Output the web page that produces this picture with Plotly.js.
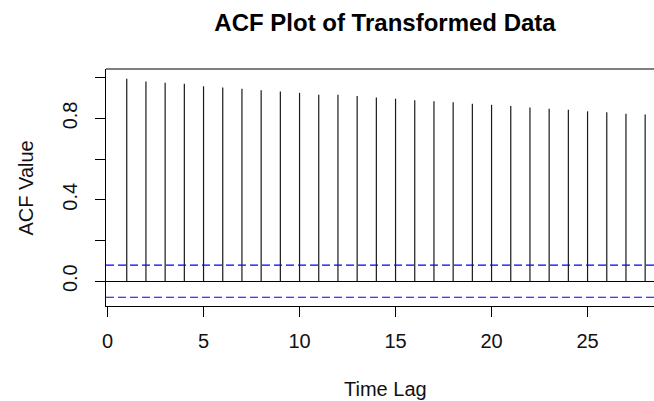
<!DOCTYPE html>
<html>
<head>
<meta charset="utf-8">
<script src="https://cdn.plot.ly/plotly-3.0.1.min.js"></script>
<style>html,body{margin:0;padding:0;background:#fff;}#chart{width:654px;height:401px;}</style>
</head>
<body>
<div id="chart"></div>
<script>
// Data
const lags = [1,2,3,4,5,6,7,8,9,10,11,12,13,14,15,16,17,18,19,20,21,22,23,24,25,26,27,28];
const acfValues = [0.995,0.981,0.975,0.970,0.958,0.952,0.946,0.939,0.933,0.926,0.916,0.916,0.910,0.903,
                   0.897,0.890,0.884,0.879,0.872,0.867,0.861,0.854,0.848,0.843,0.835,0.830,0.823,0.819];
const ciBound = 0.079;
const xTickVals = [0,5,10,15,20,25];
const yTickVals = [0,0.2,0.4,0.6,0.8,1.0];
const yTickText = ['0.0','','0.4','','0.8',''];

// Build the vertical spikes (lag, 0) -> (lag, acf)
const sx = [], sy = [];
lags.forEach((l, i) => { sx.push(l, l, null); sy.push(0, acfValues[i], null); });

const font = 'Liberation Sans, Arial, sans-serif';
const data = [{
  x: sx, y: sy, type: 'scatter', mode: 'lines',
  line: {color: '#1a1a1a', width: 1.2}, hoverinfo: 'skip', showlegend: false
}];

const layout = {
  width: 654, height: 401,
  margin: {l: 106, r: 0, t: 69, b: 95, pad: 0},
  paper_bgcolor: '#fff', plot_bgcolor: '#fff',
  font: {family: font, size: 20, color: '#111'},
  title: {text: '<b>ACF Plot of Transformed Data</b>', font: {family: font, size: 24, color: '#000'},
          xref: 'container', x: 385/654, xanchor: 'center', yref: 'container', y: 1 - 23/401, yanchor: 'middle'},
  xaxis: {
    range: [-0.08, 28.46], tickvals: xTickVals, ticks: 'outside', ticklen: 10, tickcolor: '#000', tickwidth: 1,
    ticklabelstandoff: 7,
    showline: true, linecolor: '#000', linewidth: 1, showgrid: false, zeroline: false,
    tickfont: {family: font, size: 20, color: '#111'}
  },
  yaxis: {
    range: [-0.122, 1.043], tickvals: yTickVals, ticktext: yTickText, tickangle: -90,
    ticks: 'outside', ticklen: 10, tickcolor: '#000', tickwidth: 1, ticklabelstandoff: 10,
    showline: true, linecolor: '#000', linewidth: 1, showgrid: false,
    zeroline: true, zerolinecolor: '#000', zerolinewidth: 1,
    tickfont: {family: font, size: 20, color: '#111'}
  },
  shapes: [
    {type: 'line', xref: 'paper', yref: 'paper', x0: 0, x1: 1, y0: 1, y1: 1, line: {color: '#000', width: 1}},
    {type: 'line', xref: 'paper', yref: 'y', x0: 0, x1: 1, y0: ciBound, y1: ciBound, line: {color: '#0000ff', width: 1.2, dash: '8px,4px'}},
    {type: 'line', xref: 'paper', yref: 'y', x0: 0, x1: 1, y0: -ciBound, y1: -ciBound, line: {color: '#0000ff', width: 1.2, dash: '8px,4px'}}
  ],
  annotations: [
    {text: 'Time Lag', xref: 'x', x: 14.5, yref: 'paper', y: -(389-306)/237, xanchor: 'center', yanchor: 'middle',
     showarrow: false, font: {family: font, size: 20, color: '#111'}},
    {text: 'ACF Value', textangle: -90, xref: 'paper', x: (25-106)/548, xanchor: 'center', yref: 'paper', y: 0.5, yanchor: 'middle',
     showarrow: false, font: {family: font, size: 20, color: '#111'}}
  ]
};

Plotly.newPlot('chart', data, layout, {displayModeBar: false, staticPlot: true});
</script>
</body>
</html>
